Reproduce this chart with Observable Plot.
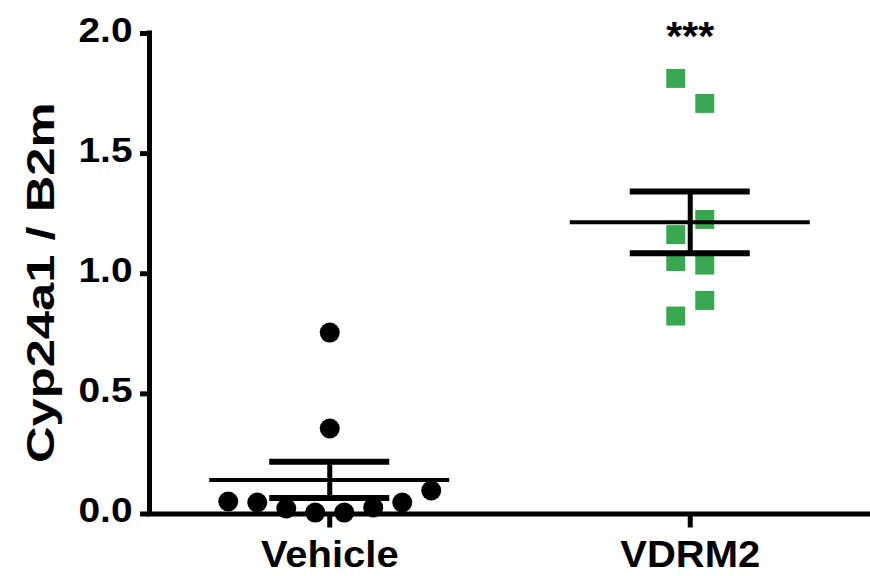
<!DOCTYPE html>
<html><head><meta charset="utf-8">
<script src="https://cdn.jsdelivr.net/npm/d3@7"></script>
<script src="https://cdn.jsdelivr.net/npm/@observablehq/plot@0.6"></script>
<style>html,body{margin:0;padding:0;background:#fff}</style>
</head><body><div id="chart"></div>
<script>
const groups = ["Vehicle", "VDRM2"];
const vehicleValues = [0.755, 0.356, 0.048, 0.052, 0.023, 0.006, 0.006, 0.027, 0.048, 0.098];
const vdrm2Values = [1.813, 1.709, 1.226, 1.163, 1.051, 1.036, 0.889, 0.824];
const yTicks = [0, 0.5, 1.0, 1.5, 2.0];
const significance = ["", "***"];
const yLabel = "Cyp24a1 / B2m";

const W = 870, H = 576, ML = 149, MR = 0, MT = 33, MB = 62.5;
const unitPx = (W - ML - MR) / 2;
const spacingPx = 29, rowTol = 0.11;

// GraphPad-like scatter layout: rows of near-equal values spread symmetrically
function scatterLayout(values, gi) {
  const sorted = values.slice().sort((a, b) => a - b);
  const rows = [];
  for (const v of sorted) {
    const last = rows[rows.length - 1];
    if (last && v - last[0] <= rowTol) last.push(v); else rows.push([v]);
  }
  const out = [];
  rows.forEach((row, ri) => {
    const n = row.length;
    const slots = [];
    if (n % 2) { slots.push(0); for (let k = 1; slots.length < n; k++) slots.push(-k, k); }
    else { for (let k = 0.5; slots.length < n; k++) slots.push(-k, k); }
    const sign = ri % 2 ? -1 : 1;
    row.forEach((v, j) => out.push({group: groups[gi], gi, value: v, x: gi + sign * slots[j] * spacingPx / unitPx}));
  });
  return out;
}
function summary(values, gi) {
  const m = d3.mean(values);
  const se = d3.deviation(values) / Math.sqrt(values.length);
  return {gi, mean: m, lo: m - se, hi: m + se};
}

const vehPts = scatterLayout(vehicleValues, 0);
const vdrPts = scatterLayout(vdrm2Values, 1);
const st = [summary(vehicleValues, 0), summary(vdrm2Values, 1)];
const meanHalf = 120 / unitPx, capHalf = 60 / unitPx;

const chart = Plot.plot({
  width: W, height: H,
  marginLeft: ML, marginRight: MR, marginTop: MT, marginBottom: MB,
  x: {domain: [-0.5, 1.5], axis: null},
  y: {domain: [0, d3.max(yTicks)], axis: null},
  style: {fontFamily: "'Liberation Sans', Arial, sans-serif", fontWeight: "bold", background: "#fff", color: "#000"},
  marks: [
    Plot.dot(vehPts, {x: "x", y: "value", r: 10, fill: "#000", stroke: "none"}),
    Plot.dot(vdrPts, {x: "x", y: "value", r: 10.7, symbol: "square", fill: "#37a84f", stroke: "none"}),
    Plot.ruleY(st, {y: "mean", x1: d => d.gi - meanHalf, x2: d => d.gi + meanHalf, strokeWidth: 4}),
    Plot.ruleX(st, {x: "gi", y1: "lo", y2: "hi", strokeWidth: 5}),
    Plot.ruleY(st, {y: "hi", x1: d => d.gi - capHalf, x2: d => d.gi + capHalf, strokeWidth: 6}),
    Plot.ruleY(st, {y: "lo", x1: d => d.gi - capHalf, x2: d => d.gi + capHalf, strokeWidth: 6}),
    Plot.ruleX([-0.5], {strokeWidth: 5, strokeLinecap: "square"}),
    Plot.ruleY([0], {strokeWidth: 5, strokeLinecap: "square"}),
    Plot.axisY(yTicks, {tickSize: 9, tickPadding: 8, strokeWidth: 5, fontSize: 35, tickFormat: d3.format(".1f"), label: null}),
    Plot.axisX([0, 1], {tickSize: 14, tickPadding: 13, strokeWidth: 5, fontSize: 37, tickFormat: d => groups[d], label: null}),
    Plot.text(significance.map((s, i) => ({i, s})), {x: "i", y: () => d3.max(yTicks), text: "s", fontSize: 41, dy: 3}),
    Plot.text([yLabel], {frameAnchor: "left", textAnchor: "middle", rotate: -90, dx: -108, dy: 9, fontSize: 39})
  ]
});
document.getElementById("chart").append(chart);

function stretchText(t, f) {
  const L = t.getComputedTextLength();
  t.setAttribute("textLength", L * f);
  t.setAttribute("lengthAdjust", "spacingAndGlyphs");
}
chart.querySelectorAll('g[aria-label="y-axis tick label"] text').forEach(t => { stretchText(t, 1.11); t.setAttribute("dy", "-0.09em"); });
chart.querySelectorAll('g[aria-label="x-axis tick label"] text').forEach(t => stretchText(t, 1.08));
chart.querySelectorAll('text').forEach(t => { if (t.textContent === yLabel) stretchText(t, 1.3); });
</script>
</body></html>
